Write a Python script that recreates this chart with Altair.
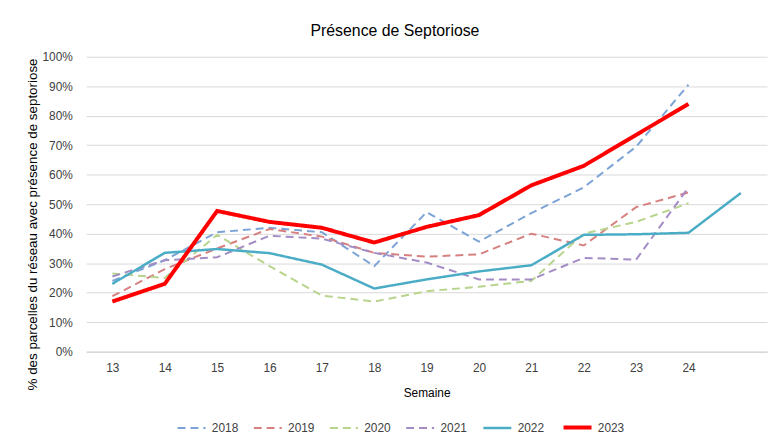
import altair as alt
import pandas as pd

weeks = ["13", "14", "15", "16", "17", "18", "19", "20", "21", "22", "23", "24", "25"]
years = ["2018", "2019", "2020", "2021", "2022", "2023"]

s2018 = [0.24, 0.31, 0.405, 0.42, 0.405, 0.29, 0.473, 0.373, 0.47, 0.557, 0.695, 0.905]
s2019 = [0.188, 0.28, 0.35, 0.416, 0.39, 0.335, 0.322, 0.33, 0.40, 0.36, 0.49, 0.54]
s2020 = [0.265, 0.25, 0.396, 0.29, 0.19, 0.17, 0.205, 0.22, 0.24, 0.40, 0.44, 0.503]
s2021 = [0.255, 0.31, 0.32, 0.393, 0.383, 0.335, 0.302, 0.245, 0.245, 0.318, 0.312, 0.557]
s2022 = [0.23, 0.335, 0.348, 0.334, 0.295, 0.214, 0.245, 0.272, 0.293, 0.396, 0.398, 0.403, 0.538]
s2023 = [0.17, 0.23, 0.477, 0.44, 0.42, 0.37, 0.423, 0.463, 0.564, 0.63, 0.735, 0.84]

series = [s2018, s2019, s2020, s2021, s2022, s2023]
colors = ["#7BA3D6", "#D68080", "#B8D48C", "#A38CC6", "#4BACC6", "#FF0000"]
dashes = [[8, 5], [8, 5], [8, 5], [8, 5], [1, 0], [1, 0]]
widths = [2, 2, 2, 2, 2.5, 4]

rows = []
for y, vals in zip(years, series):
    for w, v in zip(weeks, vals):
        rows.append({"semaine": w, "valeur": v, "annee": y})
df = pd.DataFrame(rows)

FONT = "Liberation Sans"

chart = alt.Chart(df).mark_line().encode(
    x=alt.X("semaine:O", sort=weeks,
            scale=alt.Scale(type="point", padding=0.5, domain=weeks),
            axis=alt.Axis(title="Semaine", labelAngle=0, ticks=False,
                          labelExpr="datum.value == '25' ? '' : datum.value",
                          labelPadding=11, titlePadding=14, domainColor="#D0D0D0",
                          grid=False)),
    y=alt.Y("valeur:Q", scale=alt.Scale(domain=[0, 1]),
            axis=alt.Axis(title="% des parcelles du réseau avec présence de septoriose",
                          format=".0%", values=[i / 10 for i in range(11)],
                          ticks=False, domain=False, labelPadding=14,
                          gridColor="#D9D9D9", titlePadding=2, titleY=169,
                          titleFontSize=13.5)),
    color=alt.Color("annee:O", scale=alt.Scale(domain=years, range=colors),
                    legend=alt.Legend(title=None)),
    strokeDash=alt.StrokeDash("annee:O", scale=alt.Scale(domain=years, range=dashes),
                              legend=alt.Legend(title=None)),
    strokeWidth=alt.StrokeWidth("annee:O",
                                scale=alt.Scale(type="ordinal", domain=years, range=widths),
                                legend=alt.Legend(title=None)),
).properties(
    width=688, height=298,
    title=alt.TitleParams("Présence de Septoriose", anchor="middle", dx=-32,
                          fontSize=16, fontWeight="normal", font=FONT, offset=12,
                          color="#000000"),
    autosize=alt.AutoSizeParams(type="none"),
    padding={"left": 79, "top": 47, "right": 5, "bottom": 84},
).configure_view(stroke=None).configure_axis(
    labelFont=FONT, titleFont=FONT, labelFontSize=12, titleFontSize=12,
    titleFontWeight="normal", labelColor="#404040", titleColor="#000000",
).configure_legend(
    orient="none", legendX=90, legendY=358, direction="horizontal",
    columns=6, symbolType="stroke", symbolSize=800, labelFont=FONT,
    labelFontSize=12, labelColor="#404040", columnPadding=11, labelOffset=4,
)

chart.save("out.html", embed_options={"renderer": "svg", "actions": False})
